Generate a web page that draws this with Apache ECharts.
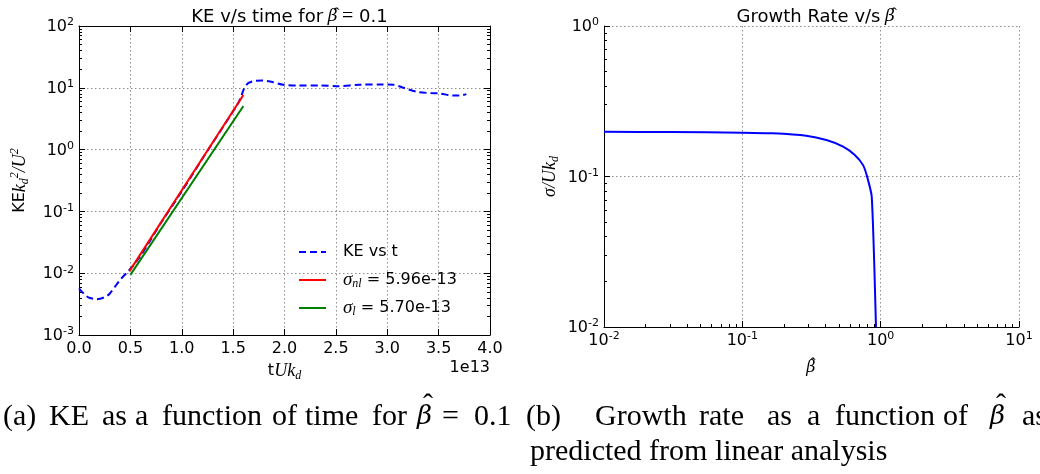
<!DOCTYPE html>
<html>
<head>
<meta charset="utf-8">
<title>KE and growth rate</title>
<script src="https://cdn.jsdelivr.net/npm/echarts@6/dist/echarts.min.js"></script>
<style>
  html, body { margin: 0; padding: 0; background: #fff; }
  #chart { width: 1040px; height: 474px; }
</style>
</head>
<body>
<div id="chart"></div>
<script>
// kinetic energy vs time, time in units of 1e13
const keTime = [0.0, 0.05, 0.1, 0.17, 0.25, 0.3, 0.4, 0.48, 0.6, 0.8, 1.0, 1.2, 1.4, 1.55, 1.58,
  1.61, 1.65, 1.72, 1.79, 1.89, 1.99, 2.12, 2.35, 2.51, 2.73, 2.96, 3.06, 3.16, 3.29, 3.42, 3.51, 3.64, 3.71, 3.77];
const keValue = [0.0057, 0.0046, 0.0040, 0.0038, 0.0041, 0.0047, 0.0078, 0.0108, 0.0192, 0.066, 0.21, 0.71, 2.3, 5.7, 7.4,
  10.0, 12.0, 13.0, 13.1, 12.3, 11.2, 10.9, 10.9, 10.6, 11.2, 11.3, 11.2, 10.0, 8.6, 8.2, 8.1, 7.5, 7.5, 7.9];
// exponential fits (nonlinear and linear growth rates)
const fitNlTime = [0.49, 1.6];
const fitNlValue = [0.0107, 7.64];
const fitLTime = [0.5, 1.6];
const fitLValue = [0.0094, 5.08];
const legendNames = ['KE vs t', 'sigma_nl', 'sigma_l'];
const legendLabels = ['KE vs t', '{it|σ}{sub|nl} = 5.96e-13', '{it|σ}{sub|l} = 5.70e-13'];

// growth rate from linear analysis
const betaHat = [0.01, 0.03, 0.1, 0.1667, 0.29, 0.405, 0.535, 0.65, 0.746, 0.798, 0.862, 0.925];
const growthRate = [0.198, 0.1975, 0.1955, 0.1936, 0.1866, 0.1746, 0.158, 0.139, 0.119, 0.0998, 0.0734, 0.01];

const sans = 'DejaVu Sans';
const serif = 'Liberation Serif';
const greek = 'DejaVu Serif';

const pairs = (xs, ys) => xs.map((x, i) => [x, ys[i]]);

const tickRich = {
  b: { fontFamily: sans, fontSize: 16, color: '#000', lineHeight: 18, verticalAlign: 'bottom' },
  sup: { fontFamily: sans, fontSize: 11, color: '#000', lineHeight: 11, verticalAlign: 'top' }
};
// beta with a hat: the beta box is narrow so the hat token sits over the glyph
const mathRich = {
  r: { fontFamily: sans, fontSize: 16, color: '#000', lineHeight: 22 },
  it: { fontFamily: serif, fontStyle: 'italic', fontSize: 18, color: '#000', lineHeight: 22 },
  gr: { fontFamily: greek, fontStyle: 'italic', fontSize: 16, color: '#000', lineHeight: 22, width: 3, align: 'left' },
  ht: { fontFamily: serif, fontSize: 16, color: '#000', lineHeight: 10, verticalAlign: 'top', width: 7.5, align: 'center' },
  sub: { fontFamily: serif, fontStyle: 'italic', fontSize: 12, color: '#000', verticalAlign: 'bottom', lineHeight: 12 },
  sup: { fontFamily: serif, fontStyle: 'italic', fontSize: 12, color: '#000', verticalAlign: 'top', lineHeight: 12 }
};
const titleRich = {
  sp: { fontSize: 18, lineHeight: 22, width: 8 },
  gr: { fontFamily: greek, fontStyle: 'italic', fontSize: 17, color: '#000', lineHeight: 22, width: 3, align: 'left' },
  ht: { fontFamily: serif, fontSize: 17, color: '#000', lineHeight: 10, verticalAlign: 'top', width: 5, align: 'center' },
  m: { fontFamily: serif, fontSize: 20, color: '#000', lineHeight: 22, padding: [0, 0, 0, 3] }
};

const powLabel = v => '{b|10}{sup|' + Math.round(Math.log10(v)) + '}';

const tick = { inside: true, length: 6, lineStyle: { color: '#000', width: 1 } };
const minor = { show: true, splitNumber: 9, length: 3, lineStyle: { color: '#000', width: 1 } };
const dotted = { show: true, lineStyle: { color: '#8c8c8c', width: 1, type: [1.5, 2.5] } };
const blackLine = { show: true, onZero: false, lineStyle: { color: '#000', width: 1 } };

function captionWords(words, y) {
  const out = [];
  words.forEach(w => {
    const isBeta = w[0] === 'β';
    out.push({
      type: 'text', x: w[1], y: y,
      style: {
        text: w[0], fill: '#000', verticalAlign: 'middle',
        font: isBeta ? 'italic 26px "' + greek + '"' : '30px "' + serif + '"'
      }
    });
    if (isBeta) {
      out.push({
        type: 'text', x: w[1] + 11, y: y - 11,
        style: { text: 'ˆ', fill: '#000', align: 'center', verticalAlign: 'middle', font: '30px "' + serif + '"' }
      });
    }
  });
  return out;
}

const chart = echarts.init(document.getElementById('chart'), null, { renderer: 'canvas' });

const option = {
  backgroundColor: '#fff',
  animation: false,
  title: [
    {
      text: 'KE v/s time for{sp| }{gr|β}{ht|ˆ}{m|=} 0.1',
      left: 284.5, top: 1, textAlign: 'center',
      textStyle: { fontFamily: sans, fontSize: 18, fontWeight: 'normal', color: '#000', lineHeight: 22, rich: titleRich }
    },
    {
      text: 'Growth Rate v/s{sp| }{gr|β}{ht|ˆ}',
      left: 811.5, top: 1, textAlign: 'center',
      textStyle: { fontFamily: sans, fontSize: 18, fontWeight: 'normal', color: '#000', lineHeight: 22, rich: titleRich }
    }
  ],
  legend: {
    orient: 'vertical', left: 298, top: 242, padding: 0,
    itemWidth: 27, itemHeight: 14, itemGap: 8,
    selectedMode: false,
    data: legendNames,
    formatter: name => legendLabels[legendNames.indexOf(name)],
    itemStyle: { opacity: 0 },
    textStyle: {
      fontFamily: sans, fontSize: 16, color: '#000', lineHeight: 20, padding: [0, 0, 0, 12],
      rich: {
        it: { fontFamily: serif, fontStyle: 'italic', fontSize: 19, color: '#000', lineHeight: 20 },
        sub: { fontFamily: serif, fontStyle: 'italic', fontSize: 12, color: '#000', lineHeight: 12, verticalAlign: 'bottom' }
      }
    }
  },
  grid: [
    { left: 79, top: 26, width: 411, height: 309 },
    { left: 604, top: 26, width: 415, height: 301 }
  ],
  xAxis: [
    {
      gridIndex: 0, type: 'value', min: 0, max: 4, interval: 0.5, position: 'bottom',
      axisLine: blackLine, axisTick: tick, splitLine: dotted,
      axisLabel: { color: '#000', fontFamily: sans, fontSize: 16, margin: 6, formatter: v => v.toFixed(1) },
      name: '{r|t}{it|Uk}{sub|d}', nameLocation: 'middle', nameGap: 22,
      nameTextStyle: { rich: mathRich }
    },
    {
      gridIndex: 0, type: 'value', min: 0, max: 4, interval: 0.5, position: 'top',
      axisLine: blackLine, axisTick: tick, axisLabel: { show: false }, splitLine: { show: false }
    },
    {
      gridIndex: 1, type: 'log', logBase: 10, min: 0.01, max: 10, position: 'bottom',
      axisLine: blackLine, axisTick: tick, minorTick: minor, splitLine: dotted,
      axisLabel: { margin: 4, formatter: powLabel, rich: tickRich },
      name: '{gr|β}{ht|ˆ}', nameLocation: 'middle', nameGap: 30,
      nameTextStyle: { rich: mathRich }
    }
  ],
  yAxis: [
    {
      gridIndex: 0, type: 'log', logBase: 10, min: 0.001, max: 100, position: 'left',
      axisLine: blackLine, axisTick: tick, minorTick: minor, splitLine: dotted,
      axisLabel: { margin: 5, formatter: powLabel, rich: tickRich },
      name: '{r|KE}{it|k}{sub|d}{sup|2}{it|/U}{sup|2}', nameLocation: 'middle', nameGap: 48, nameRotate: 90,
      nameTextStyle: { rich: mathRich }
    },
    {
      gridIndex: 0, type: 'log', logBase: 10, min: 0.001, max: 100, position: 'right',
      axisLine: blackLine, axisTick: tick, minorTick: minor,
      axisLabel: { show: false }, splitLine: { show: false }
    },
    {
      gridIndex: 1, type: 'log', logBase: 10, min: 0.01, max: 1, position: 'left',
      axisLine: blackLine, axisTick: tick, minorTick: minor, splitLine: dotted,
      axisLabel: { margin: 5, formatter: powLabel, rich: tickRich },
      name: '{it|σ/Uk}{sub|d}', nameLocation: 'middle', nameGap: 43, nameRotate: 90,
      nameTextStyle: { rich: mathRich }
    }
  ],
  series: [
    {
      name: 'KE vs t', type: 'line', xAxisIndex: 0, yAxisIndex: 0,
      data: pairs(keTime, keValue), symbol: 'none', smooth: 0.3,
      lineStyle: { color: '#0000ff', width: 2, type: [7, 4] }, itemStyle: { color: '#0000ff' }
    },
    {
      name: 'sigma_nl', type: 'line', xAxisIndex: 0, yAxisIndex: 0,
      data: pairs(fitNlTime, fitNlValue), symbol: 'none',
      lineStyle: { color: '#ff0000', width: 2 }, itemStyle: { color: '#ff0000' }
    },
    {
      name: 'sigma_l', type: 'line', xAxisIndex: 0, yAxisIndex: 0,
      data: pairs(fitLTime, fitLValue), symbol: 'none',
      lineStyle: { color: '#008000', width: 2 }, itemStyle: { color: '#008000' }
    },
    {
      name: 'growth', type: 'line', xAxisIndex: 2, yAxisIndex: 2,
      data: pairs(betaHat, growthRate), symbol: 'none', smooth: 0.2,
      lineStyle: { color: '#0000ff', width: 2 }, itemStyle: { color: '#0000ff' }
    }
  ],
  graphic: [
    {
      type: 'text', x: 490, y: 368,
      style: { text: '1e13', fill: '#000', font: '16px "' + sans + '"', align: 'right', verticalAlign: 'middle' }
    }
  ].concat(
    captionWords([['(a)', 3], ['KE', 49], ['as', 102], ['a', 135], ['function', 162], ['of', 272],
      ['time', 305], ['for', 372], ['β', 417], ['=', 442], ['0.1', 474]], 417),
    captionWords([['(b)', 526], ['Growth', 595], ['rate', 699], ['as', 767], ['a', 807], ['function', 835],
      ['of', 943], ['β', 990], ['as', 1022]], 417),
    captionWords([['predicted from linear analysis', 530]], 452)
  )
};

chart.setOption(option);
</script>
</body>
</html>
